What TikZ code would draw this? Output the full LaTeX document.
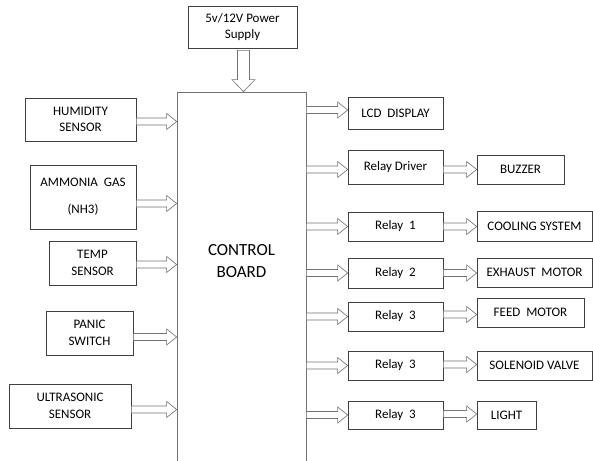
\documentclass[tikz,border=0pt]{standalone}
\usepackage{fontspec}
\setmainfont{Carlito}
\usetikzlibrary{calc}

\tikzset{
  fatarrow/.style n args={3}{draw=black!55, fill=white, line width=0.6pt,
    to path={($(\tikztostart)!#1!90:(\tikztotarget)$)
      -- ($(\tikztotarget)!#3!(\tikztostart)!#1!90:(\tikztotarget)$)
      -- ($(\tikztotarget)!#3!(\tikztostart)!#2!90:(\tikztotarget)$)
      -- (\tikztotarget)
      -- ($(\tikztotarget)!#3!(\tikztostart)!#2!-90:(\tikztotarget)$)
      -- ($(\tikztotarget)!#3!(\tikztostart)!#1!-90:(\tikztotarget)$)
      -- ($(\tikztostart)!#1!-90:(\tikztotarget)$) -- cycle}},
  sidearrow/.style={fatarrow={3.5pt}{8pt}{10pt}},
  downarrow/.style={fatarrow={6pt}{11.5pt}{12pt}},
  blk/.style={draw=black!75, line width=0.7pt, inner sep=0pt, align=center,
    font=\fontsize{13}{16.5}\selectfont}
}

\begin{document}
\begin{tikzpicture}[x=1pt, y=-1pt]
\useasboundingbox (0,0) rectangle (593,460);
\clip (0,0) rectangle (593,460);

\node [blk, minimum width=109, minimum height=42] (psu) at (242.5,27) {5v/12V Power\\Supply};
\node [blk, draw=black!55, minimum width=129, minimum height=370] (board) at (241.5,277) {};
\node [font=\fontsize{17}{22}\selectfont, align=center] (boardtxt) at (241.5,261) {CONTROL\\BOARD};

\begin {scope}
  \node [blk, minimum width=111, minimum height=43] (hum) at (80.5,119.5) {HUMIDITY\\SENSOR};
  \node [blk, minimum width=106, minimum height=64, font=\fontsize{13}{27}\selectfont] (amm) at (83,197) {AMMONIA\ \ GAS\\(NH3)};
  \node [blk, minimum width=87, minimum height=44] (temp) at (92.5,263) {TEMP\\SENSOR};
  \node [blk, minimum width=87, minimum height=44] (panic) at (89.5,333) {PANIC\\SWITCH};
  \node [blk, minimum width=122, minimum height=44] (ultra) at (70,406) {ULTRASONIC\\SENSOR};
\end {scope}

\begin {scope}[every node/.append style={minimum width=95}]
  \node [blk, minimum height=32] (lcd) at (395.5,113) {LCD\ \ DISPLAY};
  \node [blk, minimum height=34] (drv) at (395.5,167) {Relay Driver};
  \node [blk, minimum height=29] (rel1) at (395.5,226.5) {Relay\ \ 1};
  \node [blk, minimum height=30] (rel2) at (395.5,273) {Relay\ \ 2};
  \node [blk, minimum height=29] (rel3a) at (395.5,316.5) {Relay\ \ 3};
  \node [blk, minimum height=29] (rel3b) at (395.5,365.5) {Relay\ \ 3};
  \node [blk, minimum height=28] (rel3c) at (395.5,415) {Relay\ \ 3};
\end {scope}

\begin {scope}
  \node [blk, minimum width=87, minimum height=29] (buzz) at (520.5,169.5) {BUZZER};
  \node [blk, minimum width=115, minimum height=30] (cool) at (534.5,226) {COOLING SYSTEM};
  \node [blk, minimum width=115, minimum height=29] (exh) at (534.5,272.5) {EXHAUST\ \ MOTOR};
  \node [blk, minimum width=107, minimum height=29] (feed) at (530.5,312.5) {FEED\ \ MOTOR};
  \node [blk, minimum width=115, minimum height=29] (sol) at (534.5,365.5) {SOLENOID VALVE};
  \node [blk, minimum width=59, minimum height=28] (light) at (506.5,415) {LIGHT};
\end {scope}

\draw [downarrow] ([yshift=-2pt]psu.south -| 243.5,0) to (board.north -| 243.5,0);

\draw [sidearrow] ([yshift=-2pt]hum.east) to ([yshift=-2pt]hum.east -| board.west);
\draw [sidearrow] ([yshift=-6.5pt]amm.east) to ([yshift=-6.5pt]amm.east -| board.west);
\draw [sidearrow] ([yshift=-1.5pt]temp.east) to ([yshift=-1.5pt]temp.east -| board.west);
\draw [sidearrow] ([yshift=-4pt]panic.east) to ([yshift=-4pt]panic.east -| board.west);
\draw [sidearrow] ([yshift=-3.5pt]ultra.east) to ([yshift=-3.5pt]ultra.east -| board.west);

\draw [sidearrow] (board.east |- 0,110) to (lcd.west |- 0,110);
\draw [sidearrow] (board.east |- 0,169.5) to (drv.west |- 0,169.5);
\draw [sidearrow] (board.east |- rel1.west) to (rel1.west);
\draw [sidearrow] (board.east |- rel2.west) to (rel2.west);
\draw [sidearrow] (board.east |- rel3a.west) to (rel3a.west);
\draw [sidearrow] (board.east |- rel3b.west) to (rel3b.west);
\draw [sidearrow] (board.east |- rel3c.west) to (rel3c.west);

\draw [sidearrow] (drv.east |- buzz.west) to (buzz.west);
\draw [sidearrow] (rel1.east) to (rel1.east -| cool.west);
\draw [sidearrow] (rel2.east) to (rel2.east -| exh.west);
\draw [sidearrow] ([yshift=2pt]rel3a.east) to ([yshift=2pt]rel3a.east -| feed.west);
\draw [sidearrow] ([yshift=1pt]rel3b.east) to ([yshift=1pt]rel3b.east -| sol.west);
\draw [sidearrow] ([yshift=1pt]rel3c.east) to ([yshift=1pt]rel3c.east -| light.west);
\end{tikzpicture}
\end{document}
